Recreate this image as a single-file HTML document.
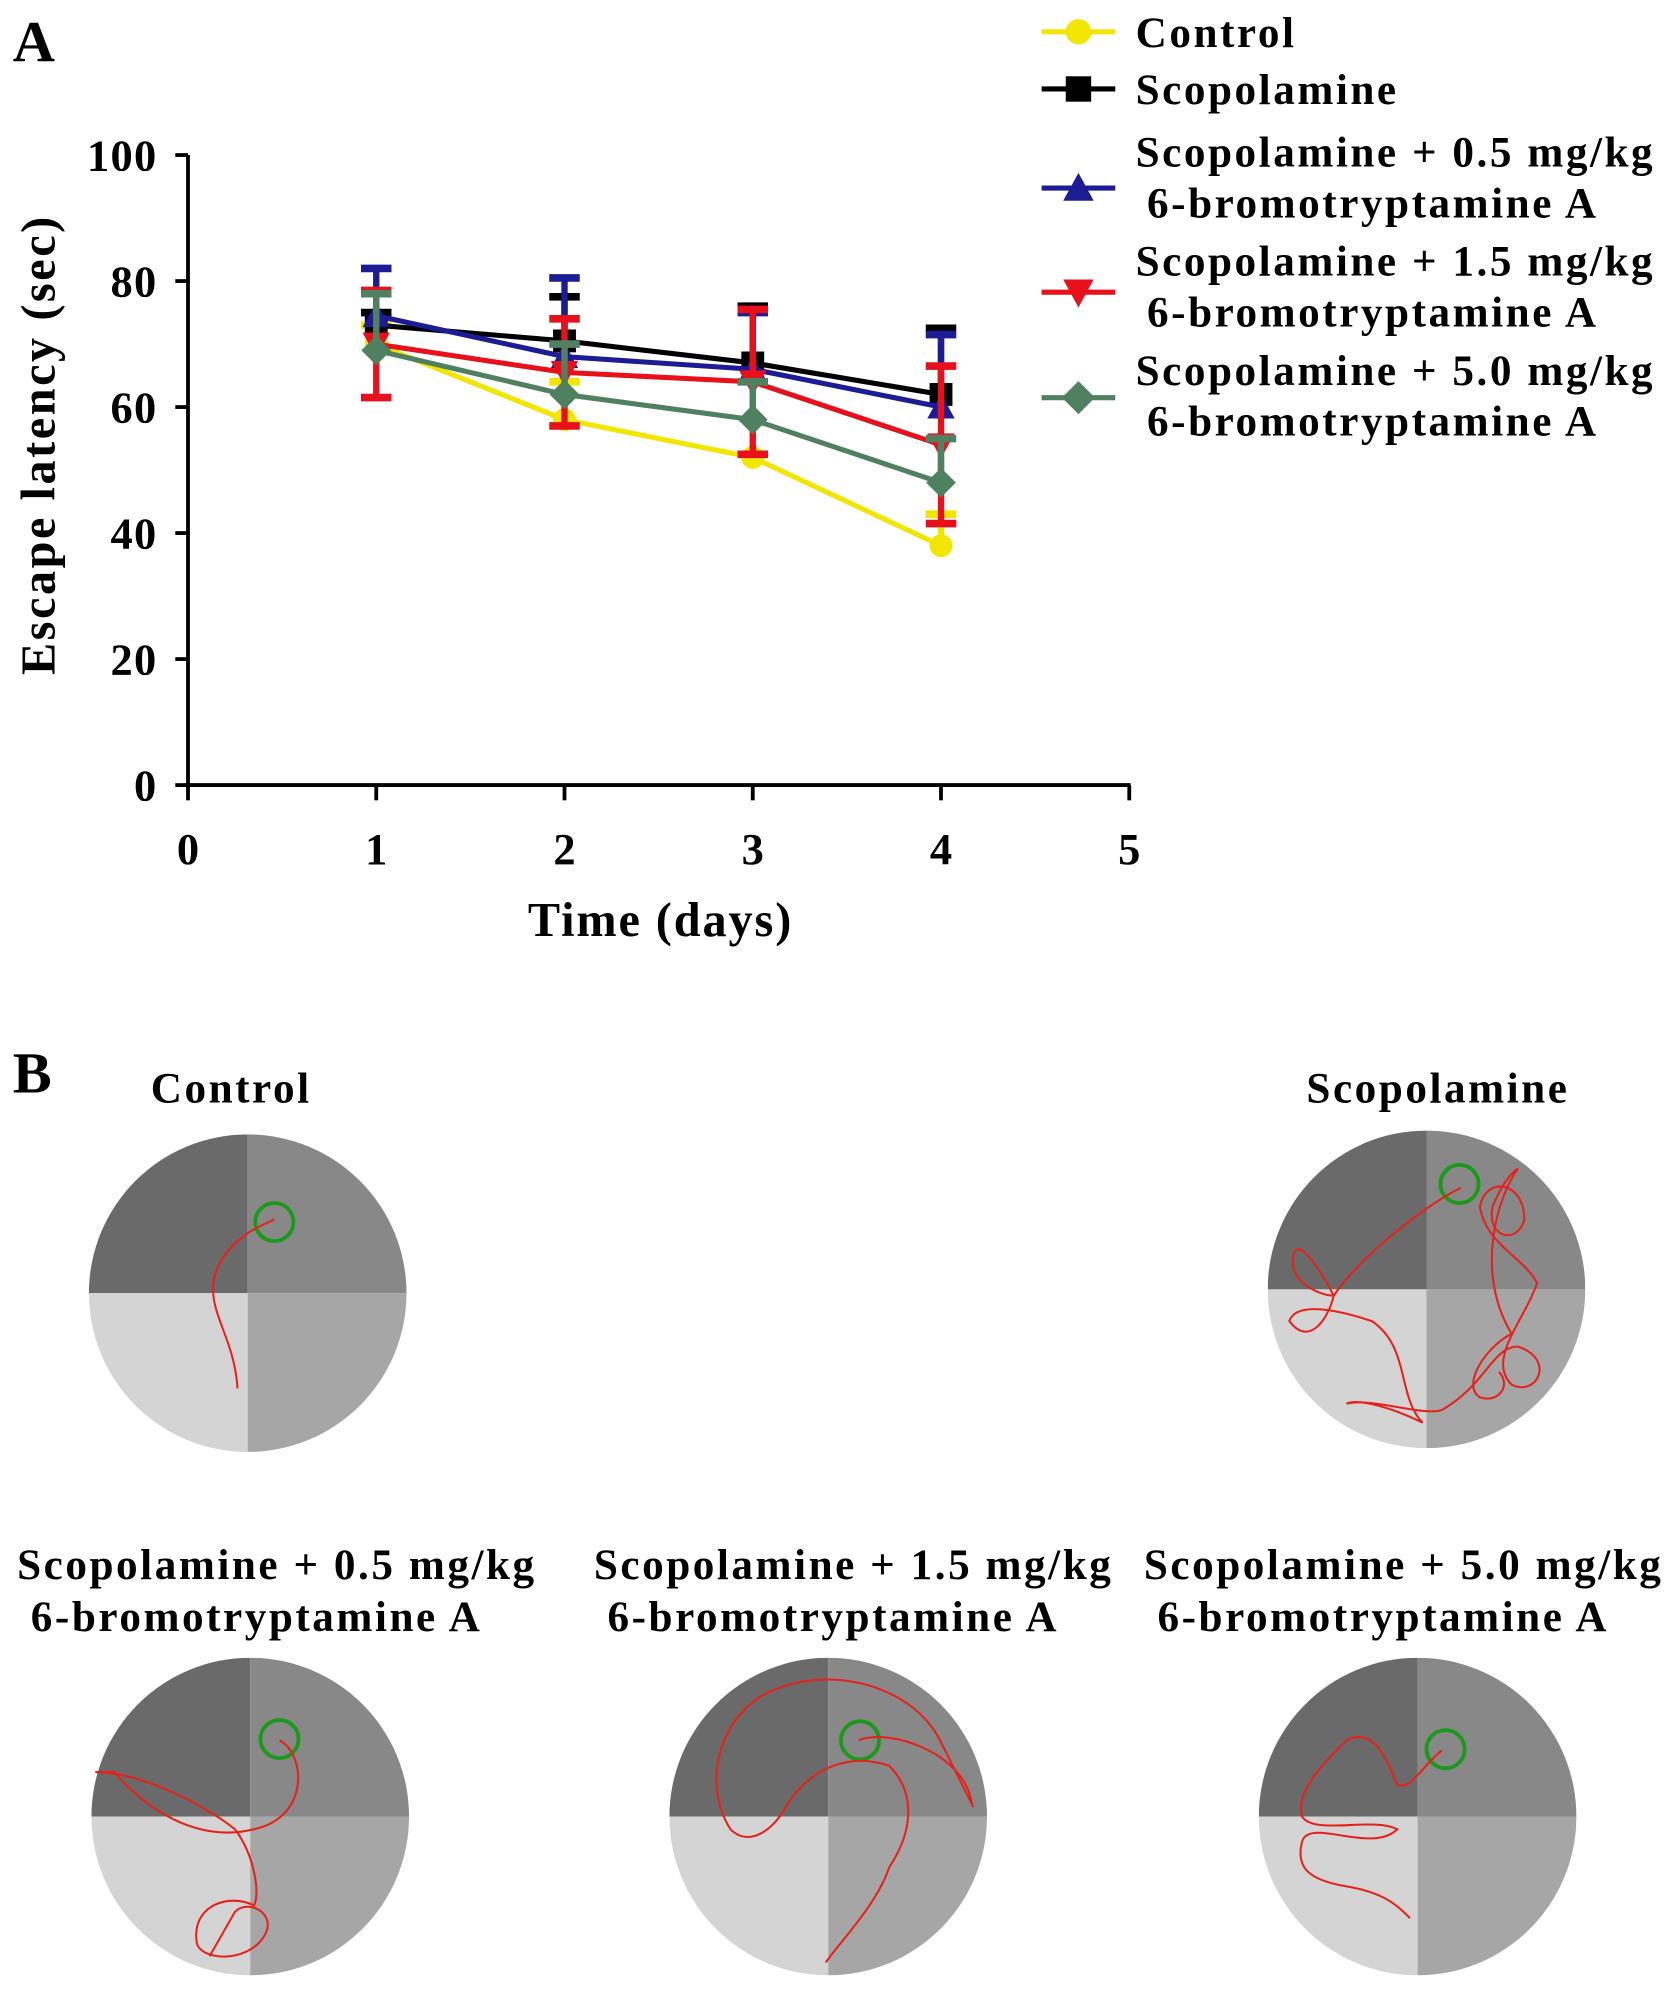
<!DOCTYPE html>
<html><head><meta charset="utf-8"><style>
html,body{margin:0;padding:0;background:#fff}
svg{display:block}
text{font-family:"Liberation Serif",serif;font-weight:bold}
</style></head><body>
<svg id="fig" width="1677" height="1991" viewBox="0 0 1320.2 1567.3" xmlns="http://www.w3.org/2000/svg">
<text x="10" y="48" font-size="46">A</text>
<g id="chart"></g>
<g id="legend"></g>

<text x="10" y="860" font-size="46">B</text>
<g font-size="34" letter-spacing="2" text-anchor="middle">
<text x="182" y="868">Control</text>
<text x="1132" y="868">Scopolamine</text>
<text x="218" y="1243">Scopolamine + 0.5 mg/kg</text>
<text x="202" y="1284">6-bromotryptamine A</text>
<text x="672" y="1243">Scopolamine + 1.5 mg/kg</text>
<text x="656" y="1284">6-bromotryptamine A</text>
<text x="1105" y="1243">Scopolamine + 5.0 mg/kg</text>
<text x="1089" y="1284">6-bromotryptamine A</text>
</g>
<g id="pools"></g>
</svg>
<script>
const NS="http://www.w3.org/2000/svg";
const days=[1,2,3,4];
const seriesNames=["Control","Scopolamine","Scopolamine + 0.5 mg/kg","Scopolamine + 1.5 mg/kg","Scopolamine + 5.0 mg/kg"];
const controlVals=[70,58,52,38];
const scopVals=[73,70.5,67,62];
const dose05Vals=[74.5,68,66,60];
const dose15Vals=[70,65.5,64,54];
const dose50Vals=[69,62,58,48];
const controlErr=[3,6,0,5];
const scopErr=[2,7,9,10.5];
const dose05Err=[7.5,12.5,9,11.5];
const dose15Err=[8.5,8.5,11.5,12.5];
const dose50Err=[9,8,6,7];
const yTicks=[0,20,40,60,80,100];
const xTicks=[0,1,2,3,4,5];
const colors=["#f2e600","#000000","#1c1c96","#e8101a","#4f8060"];
const markers=["circle","square","triangle","tri-down","diamond"];
const allVals=[controlVals,scopVals,dose05Vals,dose15Vals,dose50Vals];
const allErr=[controlErr,scopErr,dose05Err,dose15Err,dose50Err];

const X=d=>148+d*148.2;
const Y=v=>618-v*4.96;
function el(tag,attrs,parent){const e=document.createElementNS(NS,tag);for(const k in attrs)e.setAttribute(k,attrs[k]);parent.appendChild(e);return e;}
const chart=document.getElementById('chart');

const ya=el('line',{x1:X(0),y1:Y(0)+2,x2:X(0),y2:Y(100),stroke:'#000','stroke-width':3},chart);


const xa=el('line',{x1:X(0)-2,y1:Y(0),x2:X(5)+1,y2:Y(0),stroke:'#000','stroke-width':3},chart);


yTicks.forEach(v=>{
  el('line',{x1:X(0)-10,y1:Y(v),x2:X(0),y2:Y(v),stroke:'#000','stroke-width':3},chart);
  const t=el('text',{x:X(0)-24,y:Y(v)+12,'font-size':35,'letter-spacing':1,'text-anchor':'end'},chart);
  t.textContent=v;
  
  
});
xTicks.forEach(d=>{
  el('line',{x1:X(d),y1:Y(0),x2:X(d),y2:Y(0)+12,stroke:'#000','stroke-width':3},chart);
  const t=el('text',{x:X(d),y:Y(0)+62,'font-size':35,'text-anchor':'middle'},chart);
  t.textContent=d;
  
  
});
const xt=el('text',{x:520,y:737,'font-size':38,'letter-spacing':1.5,'text-anchor':'middle'},chart);
xt.textContent='Time (days)';


const yt=el('text',{x:0,y:0,'font-size':38,'letter-spacing':2,'text-anchor':'middle',transform:'translate(43,350) rotate(-90)'},chart);
yt.textContent='Escape latency (sec)';



function marker(type,cx,cy,s,color,parent){
  let m;
  if(type==='circle') m=el('circle',{cx,cy,r:s,fill:color},parent);
  else if(type==='square') m=el('rect',{x:cx-s,y:cy-s,width:2*s,height:2*s,fill:color},parent);
  else if(type==='triangle') m=el('polygon',{points:`${cx},${cy-s*1.2} ${cx-s*1.2},${cy+s} ${cx+s*1.2},${cy+s}`,fill:color},parent);
  else if(type==='tri-down') m=el('polygon',{points:`${cx},${cy+s*1.2} ${cx-s*1.2},${cy-s} ${cx+s*1.2},${cy-s}`,fill:color},parent);
  else m=el('polygon',{points:`${cx},${cy-s*1.3} ${cx+s*1.3},${cy} ${cx},${cy+s*1.3} ${cx-s*1.3},${cy}`,fill:color},parent);
  return m;
}

allVals.forEach((vals,i)=>{
  const g=el('g',{},chart);
  
  
  const errs=allErr[i];
  days.forEach((d,j)=>{
    if(errs[j]>0){
      const lo=i===3?vals[j]-errs[j]:vals[j];
      const hi=vals[j]+errs[j];
      el('line',{x1:X(d),y1:Y(lo),x2:X(d),y2:Y(hi),stroke:colors[i],'stroke-width':5},g);
      el('line',{x1:X(d)-12,y1:Y(hi),x2:X(d)+12,y2:Y(hi),stroke:colors[i],'stroke-width':6},g);
      if(i===3) el('line',{x1:X(d)-12,y1:Y(lo),x2:X(d)+12,y2:Y(lo),stroke:colors[i],'stroke-width':6},g);
    }
  });
  const pl=el('polyline',{points:days.map((d,j)=>X(d)+','+Y(vals[j])).join(' '),fill:'none',stroke:colors[i],'stroke-width':4},g);
  
  
  days.forEach((d,j)=>{
    const m=marker(markers[i],X(d),Y(vals[j]),9,colors[i],g);
    
    
  });
});

const leg=document.getElementById('legend');
const legY=[25,70,148,230,313];
const legText=[["Control"],["Scopolamine"],["Scopolamine + 0.5 mg/kg"," 6-bromotryptamine A"],["Scopolamine + 1.5 mg/kg"," 6-bromotryptamine A"],["Scopolamine + 5.0 mg/kg"," 6-bromotryptamine A"]];
const legTextY=[37,82,131,217,303];
seriesNames.forEach((n,i)=>{
  const g=el('g',{},leg);
  
  
  el('line',{x1:820,y1:legY[i],x2:878,y2:legY[i],stroke:colors[i],'stroke-width':4},g);
  marker(markers[i],849,legY[i],10,colors[i],g);
  legText[i].forEach((s,k)=>{
    const t=el('text',{x:k?903:894,y:legTextY[i]+k*40,'font-size':34,'letter-spacing':2},g);
    t.textContent=s.trim();
  });
});

const pools=document.getElementById('pools');
const poolCenters=[[195,1018],[1123,1015],[197,1430],[652,1430],[1116,1430]];
const targets=[[216,962],[1149,932],[220,1369],[677,1370],[1138,1377]];
const paths=[
"M187,1093 C185,1060 170,1040 168,1020 C165,995 185,975 205,965 L216,960",
"M1150,935 C1120,950 1070,990 1050,1020 C1040,1000 1020,970 1018,990 C1015,1010 1040,1020 1050,1020 C1045,1040 1030,1060 1015,1040 C1020,1025 1050,1030 1080,1040 C1110,1060 1100,1100 1120,1120 C1100,1110 1070,1100 1060,1105 C1080,1100 1120,1115 1135,1110 C1170,1090 1175,1060 1195,1060 C1225,1070 1210,1100 1190,1090 C1170,1070 1200,1040 1210,1010 C1200,990 1170,980 1165,950 C1170,925 1200,930 1200,960 C1195,980 1170,975 1175,950 C1185,925 1195,920 1195,920 C1180,940 1160,1000 1190,1050 C1170,1060 1150,1090 1165,1100 C1180,1105 1190,1090 1180,1080",
"M220,1370 C240,1380 245,1430 200,1440 C160,1450 120,1430 90,1395 L75,1395 C110,1395 160,1420 185,1440 C200,1460 205,1490 200,1500 C180,1490 150,1500 155,1530 C160,1545 200,1545 210,1520 C215,1505 195,1495 185,1505 L165,1540",
"M676,1370 C700,1360 760,1380 765,1420 C770,1430 755,1400 740,1370 C720,1330 660,1310 610,1330 C570,1345 550,1400 575,1440 C590,1455 610,1440 620,1420 C640,1390 670,1380 700,1390 C720,1410 720,1440 700,1470 C690,1500 660,1530 650,1545",
"M1135,1378 C1120,1390 1110,1410 1100,1405 C1090,1380 1080,1360 1060,1370 C1040,1390 1020,1410 1025,1430 C1035,1445 1080,1430 1100,1440 C1080,1460 1030,1430 1025,1450 C1020,1470 1030,1480 1060,1485 C1090,1490 1100,1500 1110,1510"
];
const poolNames=['control-pool','scopolamine-pool','dose-05-pool','dose-15-pool','dose-50-pool'];
poolCenters.forEach((c,i)=>{
  const g=el('g',{},pools);
  
  
  const r=125,[cx,cy]=c;
  const id='clip'+i;
  const cp=el('clipPath',{id},g);
  el('circle',{cx,cy,r},cp);
  const q=el('g',{'clip-path':`url(#${id})`},g);
  el('rect',{x:cx-r,y:cy-r,width:r,height:r,fill:'#6a6a6a'},q);
  el('rect',{x:cx,y:cy-r,width:r,height:r,fill:'#888888'},q);
  el('rect',{x:cx-r,y:cy,width:r,height:r,fill:'#d4d4d4'},q);
  el('rect',{x:cx,y:cy,width:r,height:r,fill:'#a6a6a6'},q);
  el('circle',{cx:targets[i][0],cy:targets[i][1],r:15,fill:'none',stroke:'#1a9a1a','stroke-width':3},g);
  el('path',{d:paths[i],fill:'none',stroke:'#e8201a','stroke-width':1.6},g);
});
</script>
</body></html>
